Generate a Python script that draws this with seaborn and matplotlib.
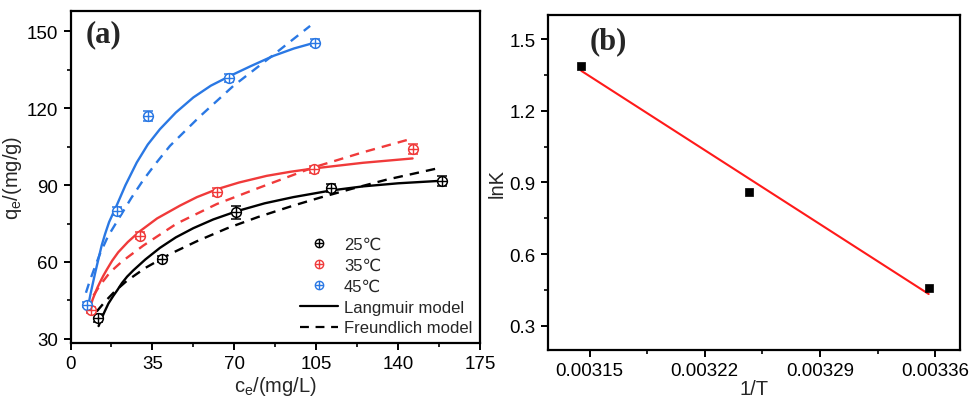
import numpy as np
import matplotlib
matplotlib.use('Agg')
import matplotlib.pyplot as plt
from matplotlib.lines import Line2D
from matplotlib.ticker import MultipleLocator, AutoMinorLocator, FormatStrFormatter
import seaborn as sns

# ---- data: (a) adsorption isotherms ----
temps = ['25℃', '35℃', '45℃']
colors = ['black', '#f03a3a', '#2a78e4']

ce_pts = [[11.9, 39.0, 70.7, 111.3, 158.8],
          [8.6, 29.7, 62.6, 104.0, 146.2],
          [6.9, 19.7, 33.0, 67.9, 104.5]]
qe_pts = [[38.1, 61.2, 79.4, 88.8, 91.6],
          [41.3, 70.3, 87.4, 96.1, 104.0],
          [43.3, 80.0, 117.0, 131.7, 145.6]]
qe_err = [[1.5, 1.2, 2.5, 1.6, 1.8],
          [1.2, 1.5, 1.5, 1.2, 2.0],
          [1.0, 1.5, 2.0, 1.5, 1.5]]

# Langmuir fit curves
lang_c = [[12.0, 13.2, 14.5, 16.2, 18.3, 20.0, 22.0, 24.2, 26.8, 32.0, 38.2, 45.0, 52.5, 61.0, 71.0, 83.0, 95.2, 111.3, 125.0, 140.0, 158.8],
          [8.6, 9.5, 10.5, 11.5, 12.6, 14.0, 15.5, 17.8, 20.4, 24.5, 29.5, 37.0, 46.8, 54.0, 62.6, 72.0, 83.8, 94.0, 104.0, 125.0, 146.2],
          [7.6, 8.5, 9.5, 10.5, 11.5, 13.3, 14.8, 16.5, 19.7, 23.5, 28.3, 33.0, 38.2, 45.0, 52.5, 60.0, 68.2, 77.0, 86.7, 95.5, 104.5]]
lang_q = [[35.0, 37.8, 40.5, 43.8, 46.8, 49.0, 51.8, 54.3, 56.7, 61.0, 65.5, 69.6, 73.2, 76.6, 79.8, 82.9, 85.3, 87.9, 89.5, 90.7, 91.7],
          [43.0, 45.5, 47.8, 50.0, 52.1, 54.6, 57.0, 60.5, 63.8, 67.8, 71.9, 77.0, 82.0, 85.3, 88.4, 91.0, 93.6, 95.2, 96.5, 98.7, 100.4],
          [43.0, 47.3, 51.5, 55.6, 59.5, 66.4, 71.0, 75.6, 82.0, 90.0, 98.8, 105.8, 111.8, 118.3, 124.2, 128.8, 132.6, 136.4, 140.4, 143.3, 145.6]]

# Freundlich fit curves
freu_c = [[11.2, 15.0, 19.0, 24.0, 32.0, 42.5, 54.0, 66.8, 80.0, 95.2, 106.6, 120.0, 135.0, 157.2],
          [9.8, 12.5, 16.9, 22.0, 31.1, 45.4, 62.5, 81.0, 103.8, 125.0, 146.2],
          [6.6, 8.0, 9.8, 12.5, 16.0, 21.2, 26.0, 31.1, 36.5, 42.5, 55.3, 69.6, 86.7, 102.4]]
freu_q = [[40.7, 44.8, 48.6, 52.6, 57.7, 63.1, 68.1, 73.1, 77.5, 82.0, 85.1, 88.5, 92.1, 96.6],
          [46.9, 50.8, 56.0, 60.2, 66.4, 75.0, 82.6, 89.1, 96.9, 102.8, 108.2],
          [48.0, 52.0, 56.5, 63.0, 70.0, 77.8, 85.0, 92.0, 98.5, 105.3, 116.8, 128.7, 140.8, 152.1]]

# ---- data: (b) van't Hoff ----
inv_T = [0.003145, 0.003247, 0.003356]
lnK = [1.388, 0.861, 0.459]
fit_x = [0.003145, 0.003356]
fit_y = [1.367, 0.433]
b_xticks = [0.00315, 0.00322, 0.00329, 0.00336]

sns.set_style('ticks')
plt.rcParams['font.family'] = ['Liberation Sans', 'DejaVu Sans']
plt.rcParams['mathtext.fontset'] = 'custom'
plt.rcParams['mathtext.rm'] = 'Liberation Sans'
plt.rcParams['mathtext.it'] = 'Liberation Sans'
plt.rcParams['axes.linewidth'] = 1.6
plt.rcParams['xtick.major.width'] = 1.4
plt.rcParams['ytick.major.width'] = 1.4
plt.rcParams['xtick.minor.width'] = 1.2
plt.rcParams['ytick.minor.width'] = 1.2
plt.rcParams['xtick.major.size'] = 5
plt.rcParams['ytick.major.size'] = 5
plt.rcParams['xtick.minor.size'] = 3
plt.rcParams['ytick.minor.size'] = 3
plt.rcParams['xtick.color'] = 'black'
plt.rcParams['ytick.color'] = 'black'
plt.rcParams['axes.edgecolor'] = 'black'

fig = plt.figure(figsize=(9.74, 4.02), dpi=100)
ax1 = fig.add_axes([0.0724, 0.1443, 0.4204, 0.8251])
ax2 = fig.add_axes([0.563, 0.1276, 0.4226, 0.8334])

# panel (a)
for i in range(3):
    sns.lineplot(x=lang_c[i], y=lang_q[i], ax=ax1, color=colors[i], lw=1.7, sort=False)
    sns.lineplot(x=freu_c[i], y=freu_q[i], ax=ax1, color=colors[i], lw=1.7, sort=False,
                 linestyle=(0, (4, 3)))
    ax1.errorbar(ce_pts[i], qe_pts[i], yerr=qe_err[i], fmt='o', mfc='white', mec=colors[i],
                 ecolor=colors[i], ms=7, mew=1.1, capsize=3.5, elinewidth=1.1, capthick=1.1, zorder=4)
    ax1.plot(ce_pts[i], qe_pts[i], '+', color=colors[i], ms=7, mew=1.0, zorder=5)

ax1.set_xlim(0, 175)
ax1.set_ylim(28.4, 157.8)
ax1.xaxis.set_major_locator(MultipleLocator(35))
ax1.xaxis.set_minor_locator(AutoMinorLocator(2))
ax1.yaxis.set_major_locator(MultipleLocator(30))
ax1.yaxis.set_minor_locator(AutoMinorLocator(2))
ax1.tick_params(which='both', direction='out', labelsize=13.5, pad=4)
ax1.set_xlabel(r'c$_\mathregular{e}$/(mg/L)', fontsize=14.5, labelpad=1)
ax1.set_ylabel(r'q$_\mathregular{e}$/(mg/g)', fontsize=14.5, labelpad=2)
ax1.text(0.037, 0.975, '(a)', transform=ax1.transAxes, fontsize=22, fontweight='bold',
         family='Liberation Serif', va='top', ha='left')

handles = []
for c in colors:
    handles.append((Line2D([], [], marker='o', ls='', mfc='white', mec=c, ms=6, mew=1.0),
                    Line2D([], [], marker='+', ls='', color=c, ms=6, mew=1.0)))
handles.append(Line2D([], [], color='black', lw=1.6))
handles.append(Line2D([], [], color='black', lw=1.6, linestyle=(0, (4, 3))))
labels = temps + ['Langmuir model', 'Freundlich model']
ax1.legend(handles, labels, loc='lower right', frameon=False,
           fontsize=12, handlelength=2.3, handletextpad=0.35, labelspacing=0.35,
           borderaxespad=0.05, borderpad=0.4)

# panel (b)
sns.lineplot(x=fit_x, y=fit_y, ax=ax2, color='#ff1a1a', lw=1.5)
sns.scatterplot(x=inv_T, y=lnK, ax=ax2, marker='s', color='black', s=40, edgecolor='black', zorder=5)
ax2.set_xlim(0.003125, 0.003375)
ax2.set_ylim(0.2, 1.602)
ax2.set_xticks(b_xticks)
ax2.set_xticklabels([f'{v:.5f}' for v in b_xticks])
ax2.xaxis.set_minor_locator(AutoMinorLocator(2))
ax2.yaxis.set_major_locator(MultipleLocator(0.3))
ax2.yaxis.set_minor_locator(AutoMinorLocator(2))
ax2.yaxis.set_major_formatter(FormatStrFormatter('%.1f'))
ax2.tick_params(which='both', direction='out', labelsize=13.5, pad=4)
ax2.set_xlabel('1/T', fontsize=14.5, labelpad=0)
ax2.set_ylabel('lnK', fontsize=14.5, labelpad=2)
ax2.text(0.10, 0.965, '(b)', transform=ax2.transAxes, fontsize=22, fontweight='bold',
         family='Liberation Serif', va='top', ha='left')

fig.savefig('out.png', dpi=100)
